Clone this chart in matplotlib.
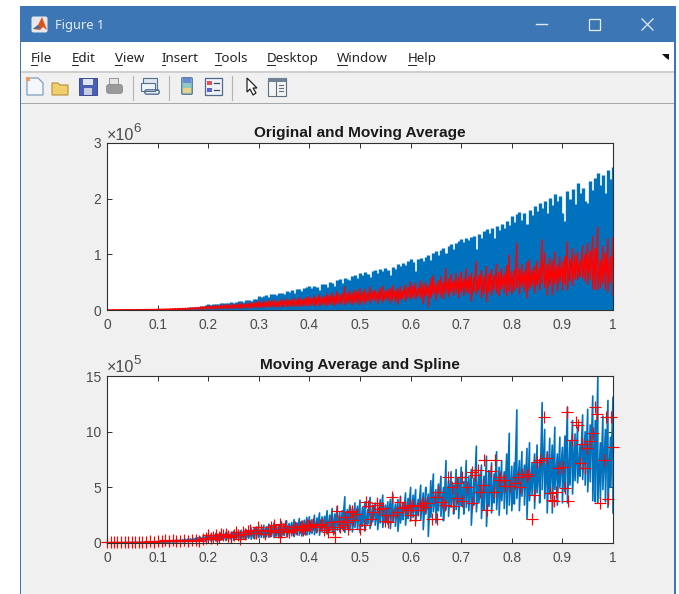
import matplotlib
matplotlib.use('Agg')
import matplotlib.pyplot as plt
from matplotlib.patches import Rectangle, Polygon, FancyBboxPatch

# sample positions shared by the original signal and the moving average
sample_x = [
    0.000, 0.005, 0.010, 0.015, 0.020, 0.025, 0.030, 0.035, 0.040, 0.045, 0.050, 0.055, 0.060, 0.065, 0.070, 0.075,
    0.080, 0.085, 0.090, 0.095, 0.100, 0.105, 0.110, 0.115, 0.120, 0.125, 0.130, 0.135, 0.140, 0.145, 0.150, 0.155,
    0.160, 0.165, 0.170, 0.175, 0.180, 0.185, 0.190, 0.195, 0.200, 0.205, 0.210, 0.215, 0.220, 0.225, 0.230, 0.235,
    0.240, 0.245, 0.250, 0.255, 0.260, 0.265, 0.270, 0.275, 0.280, 0.285, 0.290, 0.295, 0.300, 0.305, 0.310, 0.315,
    0.320, 0.325, 0.330, 0.335, 0.340, 0.345, 0.350, 0.355, 0.360, 0.365, 0.370, 0.375, 0.380, 0.385, 0.390, 0.395,
    0.400, 0.405, 0.410, 0.415, 0.420, 0.425, 0.430, 0.435, 0.440, 0.445, 0.450, 0.455, 0.460, 0.465, 0.470, 0.475,
    0.480, 0.485, 0.490, 0.495, 0.500, 0.505, 0.510, 0.515, 0.520, 0.525, 0.530, 0.535, 0.540, 0.545, 0.550, 0.555,
    0.560, 0.565, 0.570, 0.575, 0.580, 0.585, 0.590, 0.595, 0.600, 0.605, 0.610, 0.615, 0.620, 0.625, 0.630, 0.635,
    0.640, 0.645, 0.650, 0.655, 0.660, 0.665, 0.670, 0.675, 0.680, 0.685, 0.690, 0.695, 0.700, 0.705, 0.710, 0.715,
    0.720, 0.725, 0.730, 0.735, 0.740, 0.745, 0.750, 0.755, 0.760, 0.765, 0.770, 0.775, 0.780, 0.785, 0.790, 0.795,
    0.800, 0.805, 0.810, 0.815, 0.820, 0.825, 0.830, 0.835, 0.840, 0.845, 0.850, 0.855, 0.860, 0.865, 0.870, 0.875,
    0.880, 0.885, 0.890, 0.895, 0.900, 0.905, 0.910, 0.915, 0.920, 0.925, 0.930, 0.935, 0.940, 0.945, 0.950, 0.955,
    0.960, 0.965, 0.970, 0.975, 0.980, 0.985, 0.990, 0.995, 1.000,
]

# peaks of the original signal, x 1e6
orig_peaks = [
    .000, .000, .000, .000, .000, .001, .001, .001, .002, .002, .003, .003, .004, .004, .005, .006, .007, .008, .009, .011, .013,
    .014, .016, .017, .019, .022, .024, .026, .029, .032, .035, .039, .043, .046, .051, .055, .060, .066, .072, .085, .100,
    .095, .105, .112, .106, .118, .125, .120, .132, .138, .128, .148, .155, .160, .150, .172, .180, .168, .190, .205, .260,
    .240, .250, .265, .235, .280, .290, .270, .305, .310, .290, .340, .330, .360, .310, .370, .380, .350, .400, .410, .430,
    .390, .440, .420, .360, .460, .470, .410, .500, .490, .440, .530, .550, .480, .580, .560, .530, .610, .620, .570, .660,
    .630, .680, .650, .600, .700, .720, .670, .740, .700, .760, .720, .620, .780, .740, .820, .790, .840, .800, .880, .910,
    .860, .700, .920, .940, .880, .960, .990, .900, 1.02, 1.06, .980, 1.08, 1.12, 1.03, 1.15, 1.18, 1.09, 1.21, 1.24, 1.27,
    1.22, 1.29, 1.25, 1.31, 1.33, 1.10, 1.36, 1.30, 1.42, 1.45, 1.38, 1.47, 1.30, 1.51, 1.43, 1.55, 1.48, 1.60, 1.52, 1.68,
    1.58, 1.72, 1.76, 1.62, 1.74, 1.55, 1.80, 1.70, 1.87, 1.78, 1.92, 1.84, 1.96, 1.75, 2.02, 1.88, 2.08, 1.95, 2.05, 1.75,
    1.60, 2.14, 2.00, 2.18, 1.90, 2.28, 2.10, 2.20, 1.95, 1.93, 2.32, 2.15, 2.38, 2.47, 2.25, 2.42, 2.10, 2.52, 2.35, 2.57,
]

# moving average, x 1e5: top and bottom of each swing
ma_high = [
    .02, .02, .03, .03, .03, .04, .04, .05, .05, .06, .06, .07, .07, .08, .08, .09, .10, .10, .11, .12, .13,
    .14, .15, .16, .18, .20, .22, .24, .26, .28, .30, .33, .36, .38, .41, .44, .48, .52, .56, .62, .70,
    .75, .62, .85, .70, .90, .78, .95, 1.0, .82, 1.05, .92, 1.1, 1.15, 1.0, 1.2, 1.08, 1.35, 1.25, 1.45, 1.55,
    1.3, 1.6, 1.45, 1.7, 1.5, 1.8, 1.6, 1.55, 1.9, 1.7, 2.0, 1.75, 1.85, 2.1, 1.8, 2.2, 1.95, 2.05, 2.3, 2.35,
    2.1, 2.5, 2.25, 2.7, 2.35, 2.4, 2.9, 2.5, 3.1, 2.6, 3.3, 2.75, 2.9, 4.15, 3.0, 3.4, 3.1, 3.6, 3.3, 3.85,
    3.2, 3.7, 3.0, 4.1, 3.4, 3.6, 3.2, 3.9, 4.3, 3.4, 3.7, 3.9, 4.4, 3.5, 3.9, 4.2, 3.6, 4.5, 4.0, 5.0,
    4.3, 4.8, 3.9, 5.2, 4.5, 5.0, 4.4, 5.6, 6.2, 4.8, 5.3, 6.0, 5.0, 7.4, 5.6, 6.4, 5.2, 6.6, 5.9, 6.8,
    5.5, 7.4, 6.0, 6.6, 5.8, 8.7, 6.2, 7.0, 6.0, 7.8, 6.5, 7.2, 6.2, 8.2, 6.8, 7.4, 6.4, 8.0, 9.85, 6.9,
    7.2, 11.95, 7.4, 8.2, 7.0, 8.5, 9.0, 7.2, 8.0, 8.8, 7.5, 12.6, 10.2, 8.2, 9.4, 8.8, 10.4, 8.0, 9.5, 8.6,
    9.6, 12.2, 9.2, 11.0, 9.8, 10.4, 8.8, 11.5, 10.0, 12.0, 10.6, 13.2, 11.0, 14.9, 9.0, 11.4, 10.2, 12.8, 9.5, 13.1,
]
ma_low = [
    .00, .00, .00, .01, .01, .01, .01, .01, .02, .02, .02, .02, .03, .03, .03, .03, .04, .04, .04, .05, .05,
    .06, .06, .07, .07, .08, .08, .09, .09, .10, .10, .11, .11, .12, .13, .13, .14, .15, .16, .17, .18,
    .20, .22, .18, .25, .24, .28, .22, .30, .32, .26, .35, .33, .28, .38, .36, .42, .34, .44, .40, .48,
    .50, .46, .55, .52, .60, .48, .62, .58, .55, .68, .60, .72, .65, .58, .75, .70, .62, .80, .72, .78,
    .85, .75, .95, .70, 1.0, .90, .80, 1.05, .95, .85, 1.15, 1.0, 1.25, .95, 1.3, 1.15, 1.0, 1.4, 1.2, .95,
    1.5, 1.1, 1.7, 1.3, 1.9, 1.6, 1.2, 1.8, 1.4, 2.0, 1.7, 1.3, 1.9, 1.5, 1.05, 1.8, 2.1, 1.6, 2.2, 2.0,
    2.3, 1.9, 2.5, 2.1, 1.2, 2.6, .6, 2.3, 2.8, 1.8, 2.9, 2.4, 2.0, 3.0, 2.4, 3.2, 2.6, 3.0, 2.2, 3.3,
    2.6, 3.2, 2.9, 1.6, 3.4, 2.8, 3.6, 2.2, 3.0, 1.5, 3.3, 2.7, 3.6, 3.0, 2.5, 3.8, 3.1, 2.6, 3.4, 2.9,
    3.5, 4.0, 2.9, 4.2, 3.4, 2.2, 3.8, 4.3, 3.1, 4.5, 3.6, 4.8, 4.0, 2.7, 4.4, 2.7, 4.8, 3.4, 5.0, 3.6,
    4.6, 3.6, 5.2, 4.4, 5.6, 5.4, 6.0, 5.7, 5.2, 4.6, 5.5, 3.8, 3.7, 3.6, 4.0, 4.8, 3.7, 3.2, 5.0, 2.7,
]

# spline points, y x 1e5
spline_x = [
    0.000, 0.007, 0.014, 0.020, 0.027, 0.035, 0.042, 0.050, 0.056, 0.063, 0.070, 0.078, 0.085, 0.092, 0.100, 0.108,
    0.115, 0.122, 0.130, 0.136, 0.145, 0.152, 0.160, 0.167, 0.175, 0.182, 0.190, 0.195, 0.200, 0.210, 0.218, 0.225,
    0.230, 0.240, 0.250, 0.258, 0.263, 0.269, 0.283, 0.290, 0.299, 0.312, 0.318, 0.325, 0.333, 0.342, 0.342, 0.355,
    0.368, 0.375, 0.381, 0.388, 0.395, 0.402, 0.408, 0.420, 0.428, 0.437, 0.450, 0.454, 0.460, 0.467, 0.474, 0.480,
    0.487, 0.493, 0.500, 0.507, 0.512, 0.516, 0.521, 0.526, 0.533, 0.533, 0.546, 0.549, 0.556, 0.563, 0.566, 0.573,
    0.579, 0.589, 0.599, 0.599, 0.609, 0.619, 0.625, 0.633, 0.642, 0.648, 0.653, 0.655, 0.662, 0.668, 0.673, 0.681,
    0.683, 0.691, 0.691, 0.701, 0.701, 0.712, 0.721, 0.722, 0.728, 0.734, 0.737, 0.744, 0.745, 0.751, 0.759, 0.764,
    0.767, 0.774, 0.777, 0.784, 0.787, 0.797, 0.807, 0.813, 0.817, 0.820, 0.830, 0.833, 0.840, 0.844, 0.850, 0.855,
    0.863, 0.869, 0.876, 0.879, 0.884, 0.888, 0.892, 0.901, 0.906, 0.909, 0.912, 0.919, 0.927, 0.930, 0.934, 0.939,
    0.944, 0.949, 0.954, 0.960, 0.964, 0.968, 0.974, 0.982, 0.987, 0.990, 0.997, 1.000,
    0.205, 0.215, 0.222, 0.235, 0.245, 0.255, 0.272, 0.278, 0.295, 0.305, 0.322, 0.330, 0.338, 0.347, 0.352, 0.360,
    0.372, 0.385, 0.392, 0.400, 0.413, 0.425, 0.432, 0.442, 0.447, 0.458, 0.470, 0.477, 0.485, 0.538, 0.552, 0.583,
    0.594, 0.604, 0.614, 0.629,
]
spline_y = [
    .05, .05, .06, .05, .08, .06, .08, .07, .10, .09, .12, .10, .14, .12, .16, .20,
    .25, .22, .30, .18, .22, .28, .20, .30, .25, .22, .35, .45, .70, .55, .40, .80,
    .70, .65, .70, .75, .40, 1.00, 1.15, .90, 1.45, .85, 1.05, 1.45, 1.20, 1.75, .55, 1.10,
    1.15, 1.30, 1.45, 1.20, 1.60, 1.50, 1.75, 1.60, 1.20, 1.00, .55, 2.85, 1.45, 1.60, 1.90, 2.80,
    2.10, 2.60, 1.25, 1.60, 3.70, 3.30, 2.20, 2.80, 3.60, 3.40, 3.10, 2.00, 1.85, 4.15, 2.50, 2.80,
    3.65, 3.25, 3.40, 2.50, 2.05, 3.40, 3.55, 3.55, 2.20, 4.15, 2.20, 4.55, 3.70, 3.40, 5.90, 5.00,
    3.30, 5.40, 4.00, 5.90, 3.75, 5.05, 6.35, 3.60, 6.10, 6.60, 4.55, 5.20, 7.50, 2.95, 6.50, 4.55,
    7.50, 5.65, 5.90, 5.65, 5.10, 5.10, 5.35, 5.90, 5.05, 6.20, 6.00, 6.20, 2.15, 4.30, 7.30, 7.45,
    11.35, 7.65, 4.50, 3.90, 3.80, 4.55, 6.75, 6.85, 4.90, 11.80, 3.80, 9.25, 10.90, 10.60, 7.15, 8.90,
    6.70, 8.50, 9.20, 9.85, 12.20, 11.55, 3.60, 7.50, 11.35, 3.95, 11.35, 8.65,
    .45, .75, .50, .85, .55, .95, .85, 1.05, .90, 1.20, 1.05, 1.60, 1.00, 1.30, 1.50, .95,
    1.45, 1.55, 1.30, 1.65, 1.40, 1.70, 1.45, 1.90, 1.30, 2.00, 2.30, 1.30, 2.90, 3.05, 2.55, 3.15,
    3.00, 3.30, 2.95, 3.20,
]

x_ticks = [0, 0.1, 0.2, 0.3, 0.4, 0.5, 0.6, 0.7, 0.8, 0.9, 1]
x_tick_labels = ['0', '0.1', '0.2', '0.3', '0.4', '0.5', '0.6', '0.7', '0.8', '0.9', '1']
top_y_ticks = [0, 1, 2, 3]
bottom_y_ticks = [0, 5, 10, 15]

menu_items = ['File', 'Edit', 'View', 'Insert', 'Tools', 'Desktop', 'Window', 'Help']
menu_left = [31, 72, 115, 162, 215, 267, 337, 408]
menu_key_width = [6, 6, 7, 3, 6, 8, 10, 8]

W, H = 679, 594
BLUE = '#0072BD'
RED = '#FF0000'
TEXT = '#4a4a4a'
AX_FONT = ['Liberation Sans', 'DejaVu Sans']
UI_FONT = ['Noto Sans', 'DejaVu Sans']


def pixel_axes(ax_left, ax_top, ax_width, ax_height):
    return [ax_left / W, 1 - (ax_top + ax_height) / H, ax_width / W, ax_height / H]


def style_axes(ax, title, y_ticks, scale, title_pad):
    ax.set_xlim(0, 1)
    ax.set_ylim(0, y_ticks[-1] * scale)
    ax.set_xticks(x_ticks)
    ax.set_xticklabels(x_tick_labels, fontfamily=AX_FONT, fontsize=9.9, color=TEXT)
    ax.set_yticks([t * scale for t in y_ticks])
    ax.set_yticklabels([str(t) for t in y_ticks], fontfamily=AX_FONT, fontsize=9.9, color=TEXT)
    ax.tick_params(direction='in', length=3.6, width=0.7, color='#303030', top=True, right=True)
    ax.tick_params(axis='x', pad=6)
    ax.tick_params(axis='y', pad=4.2)
    ax.set_axisbelow(True)
    for spine in ax.spines.values():
        spine.set_linewidth(0.8)
        spine.set_color('#303030')
    ax.set_title(title, fontfamily=AX_FONT, fontsize=11.1, fontweight='bold', color='#1a1a1a', pad=title_pad)


def draw_window(ov):
    ov.add_patch(Rectangle((20, 6), 655.5, 588, fc='#f0f0f0', ec='none'))
    ov.add_patch(Rectangle((20, 6), 655.5, 36, fc='#3d76b4', ec='none'))
    ov.add_patch(Rectangle((20, 42), 1.2, 552, fc='#3d76b4', ec='none'))
    ov.add_patch(Rectangle((674.3, 42), 1.2, 552, fc='#3d76b4', ec='none'))
    ov.add_patch(Rectangle((21.2, 42), 653.1, 29, fc='white', ec='none'))
    ov.add_patch(Rectangle((21.2, 71), 653.1, 1.6, fc='#cfcfcf', ec='none'))
    ov.add_patch(Rectangle((21.2, 103), 653.1, 1, fc='#a8a8a8', ec='none'))

    # title bar
    ov.add_patch(FancyBboxPatch((32, 17), 15, 15, boxstyle='round,pad=0.5,rounding_size=2', fc='#e8e8ec', ec='none'))
    ov.add_patch(Polygon([(33, 29), (38, 25), (42, 17), (47, 30), (43, 27), (40, 30)], fc='#d9541e', ec='none'))
    ov.add_patch(Polygon([(33, 29), (38, 25), (40, 28), (37, 29)], fc='#3b6fa8', ec='none'))
    ov.text(55, 29, 'Figure 1', family=UI_FONT, fontsize=9.2, color='#e6eef7', va='baseline', ha='left')
    ov.plot([536, 547], [24, 24], color='#dfe9f3', lw=1)
    ov.add_patch(Rectangle((589, 19), 11, 10.5, fc='none', ec='#e6eef7', lw=0.9))
    ov.plot([642, 653], [19, 30], color='#e6eef7', lw=0.9)
    ov.plot([642, 653], [30, 19], color='#e6eef7', lw=0.9)

    # menu bar
    for label, left, key_w in zip(menu_items, menu_left, menu_key_width):
        ov.text(left, 62, label, family=UI_FONT, fontsize=9.6, color='#222222', va='baseline', ha='left')
        ov.plot([left, left + key_w], [64.5, 64.5], color='#222222', lw=0.7)
    ov.add_patch(Polygon([(662, 54), (669, 54), (669, 60), (666, 58)], fc='#111111', ec='none'))

    # toolbar
    ov.add_patch(Polygon([(27, 78), (38, 78), (43, 83), (43, 95), (27, 95)], fc='#f4f8fc', ec='#6f93b8', lw=0.8))
    ov.add_patch(Rectangle((26, 77), 4, 4, fc='#ef9a5a', ec='none'))
    ov.add_patch(Polygon([(52, 83), (58, 83), (60, 85), (68, 85), (68, 95), (52, 95)], fc='#f0cf6c', ec='#b3923c', lw=0.8))
    ov.add_patch(Rectangle((79, 78), 18, 17, fc='#4a5fb5', ec='#2f3d80', lw=0.6))
    ov.add_patch(Rectangle((83, 79), 10, 6, fc='#dfe4f2', ec='none'))
    ov.add_patch(Rectangle((84, 88), 8, 7, fc='#c8cce0', ec='none'))
    ov.add_patch(Rectangle((109, 78), 9, 7, fc='#e4e4e4', ec='#8a8a8a', lw=0.6))
    ov.add_patch(FancyBboxPatch((107, 85), 15, 8, boxstyle='round,pad=0.3,rounding_size=2', fc='#9a9a9a', ec='#777777', lw=0.5))
    ov.add_patch(Rectangle((143, 78), 14, 12, fc='#dde6f0', ec='#51708f', lw=0.8))
    ov.add_patch(Rectangle((141, 83), 14, 8, fc='#eef3f8', ec='#51708f', lw=0.8))
    ov.add_patch(FancyBboxPatch((145, 90), 14, 4, boxstyle='round,pad=0.2,rounding_size=2', fc='none', ec='#51708f', lw=1))
    ov.add_patch(FancyBboxPatch((182, 78), 10, 16, boxstyle='round,pad=0.3,rounding_size=1', fc='#8fc9c4', ec='#54708f', lw=0.8))
    ov.add_patch(Rectangle((183, 78), 8, 5, fc='#6a88d8', ec='none'))
    ov.add_patch(Rectangle((183, 88), 8, 5, fc='#ecd08a', ec='none'))
    ov.add_patch(Rectangle((204.5, 78), 17, 17, fc='#eef2f8', ec='#4f6a8c', lw=0.9))
    ov.add_patch(Rectangle((207, 81), 5, 4, fc='#e0525a', ec='none'))
    ov.add_patch(Rectangle((207, 88), 5, 4, fc='#5a62d0', ec='none'))
    ov.plot([214, 219], [83, 83], color='#3c4a5e', lw=0.9)
    ov.plot([214, 219], [90, 90], color='#3c4a5e', lw=0.9)
    ov.add_patch(Polygon([(247, 78), (247, 92), (250, 89), (253, 95), (256, 93), (253, 88), (257, 88)],
                         fc='white', ec='#222222', lw=0.9))
    ov.add_patch(Rectangle((267.5, 77.5), 18, 18, fc='#f4f4f4', ec='#5f6f7f', lw=0.8))
    ov.add_patch(Rectangle((267.5, 77.5), 18, 4, fc='#6f8296', ec='none'))
    ov.plot([276, 276], [82, 95], color='#5f6f7f', lw=0.8)
    for y in (85, 88, 91):
        ov.plot([279, 283], [y, y], color='#5f6f7f', lw=0.8)
    for x in (132.5, 168.5, 231.5):
        ov.plot([x, x], [76, 100], color='#b4b4b4', lw=0.8)

    # axis multipliers
    ov.text(107, 139.5, '\u00d710', family=AX_FONT, fontsize=11.6, color=TEXT, va='baseline', ha='left')
    ov.text(133.5, 132, '6', family=AX_FONT, fontsize=9.6, color=TEXT, va='baseline', ha='left')
    ov.text(107, 372, '\u00d710', family=AX_FONT, fontsize=11.6, color=TEXT, va='baseline', ha='left')
    ov.text(133.5, 364.5, '5', family=AX_FONT, fontsize=9.6, color=TEXT, va='baseline', ha='left')


def zigzag(xs, highs, lows):
    path_x, path_y = [], []
    for x, hi, lo in zip(xs, highs, lows):
        path_x += [x, x]
        path_y += [hi, lo]
    return path_x, path_y


def main():
    fig = plt.figure(figsize=(W / 100, H / 100), dpi=100, facecolor='white')

    ov = fig.add_axes([0, 0, 1, 1], zorder=0)
    ov.set_xlim(0, W)
    ov.set_ylim(H, 0)
    ov.axis('off')
    draw_window(ov)

    ma_x, ma_y = zigzag(sample_x, ma_high, ma_low)

    ax1 = fig.add_axes(pixel_axes(107, 143, 506, 167), zorder=1)
    ax1.vlines(sample_x, 0, [p * 1e6 for p in orig_peaks], color=BLUE, lw=2.4)
    ax1.plot(ma_x, [v * 1e5 for v in ma_y], color=RED, lw=1.0)
    style_axes(ax1, 'Original and Moving Average', top_y_ticks, 1e6, 4)

    ax2 = fig.add_axes(pixel_axes(107, 376, 506, 167), zorder=1)
    ax2.plot(ma_x, [v * 1e5 for v in ma_y], color=BLUE, lw=1.2)
    ax2.plot(spline_x, [v * 1e5 for v in spline_y], linestyle='none', marker='+', ms=8, mew=0.85, color=RED, clip_on=False)
    style_axes(ax2, 'Moving Average and Spline', bottom_y_ticks, 1e5, 5)

    fig.savefig('out.png', dpi=100, facecolor='white')


if __name__ == '__main__':
    main()
